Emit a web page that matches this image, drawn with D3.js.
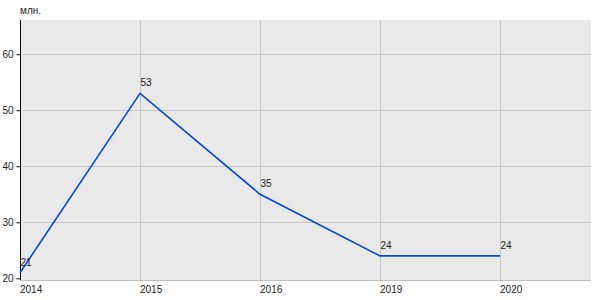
<!DOCTYPE html>
<html><head><meta charset="utf-8">
<script src="https://cdn.jsdelivr.net/npm/d3@7"></script>
<style>body{margin:0;background:#fff}svg{display:block}text{font-family:"Liberation Sans",Arial,sans-serif}</style>
</head><body><svg id="c" width="600" height="300"></svg>
<script>
const categories = ["2014","2015","2016","2019","2020"];
const values = [21,53,35,24,24];
const yTicks = [20,30,40,50,60];
const unitLabel = "млн.";

const svg = d3.select("#c");
const L=20, R=591, T=20, B=280;
const x = d3.scaleLinear().domain([0, 4.758]).range([L, R]);
const y = d3.scaleLinear().domain([19.7, 66.1]).range([B, T]);

svg.append("rect").attr("x",L).attr("y",T).attr("width",R-L).attr("height",B-T).attr("fill","#e9e9e9");

// grid (no line at the lowest tick)
svg.append("g").selectAll("line").data(yTicks.slice(1)).join("line")
  .attr("x1",L).attr("x2",R).attr("y1",d=>Math.round(y(d))+0.5).attr("y2",d=>Math.round(y(d))+0.5)
  .attr("stroke","#c6c6c6").attr("stroke-width",1);
svg.append("g").selectAll("line").data(categories).join("line")
  .attr("x1",(d,i)=>Math.round(x(i))+0.5).attr("x2",(d,i)=>Math.round(x(i))+0.5).attr("y1",T).attr("y2",B)
  .attr("stroke","#c6c6c6").attr("stroke-width",1);

// bottom axis line
svg.append("line").attr("x1",L).attr("x2",R).attr("y1",B+0.5).attr("y2",B+0.5).attr("stroke","#c0c0c0");

// y axis
const yAxis = d3.axisLeft(y).tickValues(yTicks).tickSize(4).tickPadding(3).tickFormat(d3.format("d"));
const ga = svg.append("g").attr("transform",`translate(${L+0.5},0)`).call(yAxis);
ga.select(".domain").attr("d",`M0,${T}V${B}`).attr("stroke","#000");
ga.selectAll("text").attr("font-size",10).attr("fill","#222").attr("font-family","Liberation Sans, Arial, sans-serif");
ga.selectAll(".tick line").attr("stroke","#000");

// x labels
svg.append("g").selectAll("text").data(categories).join("text")
  .attr("x",(d,i)=>x(i)).attr("y",293).attr("font-size",10).attr("fill","#222").text(d=>d);

// unit label
svg.append("text").attr("x",20).attr("y",14).attr("font-size",10).attr("fill","#222").text(unitLabel);

// line
const line = d3.line().x((d,i)=>x(i)).y(d=>y(d));
svg.append("path").datum(values).attr("d",line).attr("fill","none").attr("stroke","#0047e6").attr("stroke-width",1.6);

// value labels
svg.append("g").selectAll("text").data(values).join("text")
  .attr("x",(d,i)=>x(i)+0.5).attr("y",d=>y(d)-7).attr("font-size",10).attr("fill","#222").text(d=>d);
</script></body></html>
